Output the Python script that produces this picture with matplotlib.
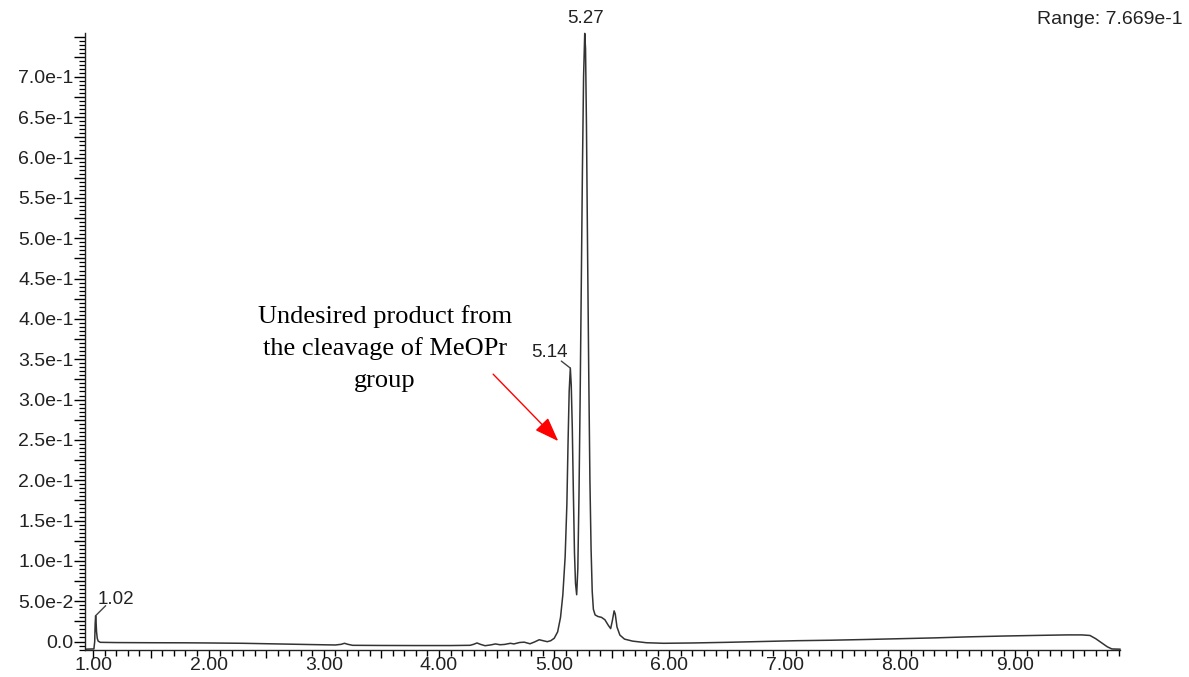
import numpy as np
import matplotlib.pyplot as plt
from matplotlib.ticker import MultipleLocator

# chromatogram trace (retention time, signal)
rt = [0.935, 0.97, 1.005, 1.012, 1.016, 1.020, 1.024, 1.028, 1.034, 1.042,
      1.06, 1.2, 1.5, 1.8, 2.0, 2.3, 2.6, 2.9, 3.1, 3.15,
      3.18, 3.21, 3.25, 3.5, 3.8, 4.1, 4.27, 4.30, 4.33, 4.36,
      4.40, 4.45, 4.49, 4.53, 4.57, 4.62, 4.65, 4.70, 4.74, 4.79,
      4.83, 4.87, 4.91, 4.94, 4.97, 5.00, 5.03, 5.055, 5.075, 5.095,
      5.11, 5.12, 5.13, 5.14, 5.148, 5.157, 5.166, 5.176, 5.185, 5.195,
      5.205, 5.215, 5.225, 5.235, 5.245, 5.255, 5.265, 5.272, 5.28, 5.29,
      5.30, 5.31, 5.32, 5.33, 5.34, 5.355, 5.38, 5.41, 5.44, 5.47,
      5.49, 5.505, 5.52, 5.53, 5.545, 5.57, 5.61, 5.68, 5.8, 5.95,
      6.2, 6.5, 6.8, 7.1, 7.4, 7.7, 8.0, 8.3, 8.6, 8.9,
      9.2, 9.45, 9.58, 9.65, 9.70, 9.75, 9.80, 9.84, 9.91]
signal = [-0.0095, -0.0093, -0.0092, 0.000, 0.022, 0.032, 0.024, 0.012, 0.004, 0.0005,
          -0.001, -0.0013, -0.0015, -0.0016, -0.0018, -0.0022, -0.003, -0.0038, -0.0043, -0.0035,
          -0.0022, -0.0035, -0.0047, -0.0049, -0.005, -0.005, -0.0047, -0.0035, -0.0018, -0.0035,
          -0.0052, -0.0042, -0.0030, -0.0040, -0.0036, -0.0022, -0.0030, -0.0012, -0.0008, -0.0028,
          -0.0005, 0.0022, 0.0008, -0.0002, 0.0010, 0.004, 0.012, 0.030, 0.058, 0.105,
          0.170, 0.245, 0.310, 0.339, 0.318, 0.265, 0.188, 0.110, 0.072, 0.058,
          0.090, 0.180, 0.300, 0.440, 0.585, 0.700, 0.754, 0.735, 0.640, 0.480,
          0.330, 0.200, 0.115, 0.062, 0.040, 0.033, 0.031, 0.030, 0.027, 0.020,
          0.016, 0.026, 0.038, 0.034, 0.018, 0.008, 0.003, 0.0005, -0.0015, -0.0022,
          -0.0018, -0.001, 0.000, 0.001, 0.0016, 0.0025, 0.0035, 0.0045, 0.0058, 0.0068,
          0.0076, 0.0082, 0.0082, 0.0075, 0.0035, -0.0015, -0.0065, -0.0092, -0.0095]

# labelled peaks
peak_rt = [1.02, 5.14, 5.27]
peak_height = [0.032, 0.339, 0.754]
peak_text = ['1.02', '5.14', '5.27']

x_ticks = [1.0, 1.5, 2.0, 2.5, 3.0, 3.5, 4.0, 4.5, 5.0, 5.5, 6.0, 6.5, 7.0, 7.5, 8.0, 8.5, 9.0, 9.5]
x_labels = ['1.00', '', '2.00', '', '3.00', '', '4.00', '', '5.00', '', '6.00', '', '7.00', '',
            '8.00', '', '9.00', '']
y_ticks = [i * 0.025 for i in range(31)]
y_names = ['0.0', '5.0e-2', '1.0e-1', '1.5e-1', '2.0e-1', '2.5e-1', '3.0e-1', '3.5e-1',
           '4.0e-1', '4.5e-1', '5.0e-1', '5.5e-1', '6.0e-1', '6.5e-1', '7.0e-1', '7.5e-1']
y_labels = []
for i in range(31):
    y_labels.append(y_names[i // 2] if i % 2 == 0 and i < 30 else '')

plt.rcParams['font.family'] = ['Liberation Sans', 'DejaVu Sans']
txt = '#222222'

fig = plt.figure(figsize=(11.89, 6.77), dpi=100)
ax = fig.add_axes([0.0719, 0.0399, 0.870, 0.9114])

ax.plot(rt, signal, color='#333333', lw=1.1, clip_on=False)

ax.set_xlim(0.932, 9.91)
ax.set_ylim(-0.0105, 0.7545)

ax.spines['top'].set_visible(False)
ax.spines['right'].set_visible(False)
for s in ['left', 'bottom']:
    ax.spines[s].set_linewidth(1.0)
    ax.spines[s].set_color('#222222')

ax.set_xticks(x_ticks, x_labels)
ax.set_yticks(y_ticks, y_labels)
ax.xaxis.set_minor_locator(MultipleLocator(0.1))
ax.yaxis.set_minor_locator(MultipleLocator(0.005))
ax.tick_params(axis='x', which='major', length=6, width=1, pad=-1, labelsize=14, labelcolor=txt)
ax.tick_params(axis='x', which='minor', length=4, width=1)
ax.tick_params(axis='y', which='major', length=8, width=1, pad=0.5, labelsize=14, labelcolor=txt)
ax.tick_params(axis='y', which='minor', length=4, width=0.9)

# peak labels and their short leader lines
offsets = [(20, 16), (-21, 16), (0, 15)]
leads = [(10, 10), (-9, 7), None]
for i in range(3):
    ax.annotate(peak_text[i], xy=(peak_rt[i], peak_height[i]), xytext=offsets[i],
                textcoords='offset pixels', ha='center', va='center', fontsize=13.5,
                color=txt, annotation_clip=False)
    if leads[i] is not None:
        ax.annotate('', xy=(peak_rt[i], peak_height[i]), xytext=leads[i],
                    textcoords='offset pixels', annotation_clip=False,
                    arrowprops=dict(arrowstyle='-', color='#444444', lw=1,
                                    shrinkA=0, shrinkB=0))

fig.text(1183 / 1189, 1 - 20 / 677, 'Range: 7.669e-1', ha='right', va='center',
         fontsize=14, color=txt)

ax.text(3.528, 0.3637, 'Undesired product from\nthe cleavage of MeOPr\ngroup',
        ha='center', va='center', fontsize=19, family='Liberation Serif',
        linespacing=1.55, color='black')
ax.annotate('', xy=(5.035, 0.2485), xytext=(4.47, 0.3315),
            arrowprops=dict(arrowstyle='-|>,head_length=0.6,head_width=0.22',
                            color='red', lw=1.0, mutation_scale=25, shrinkA=0, shrinkB=0))

fig.savefig('out.png', dpi=100)
